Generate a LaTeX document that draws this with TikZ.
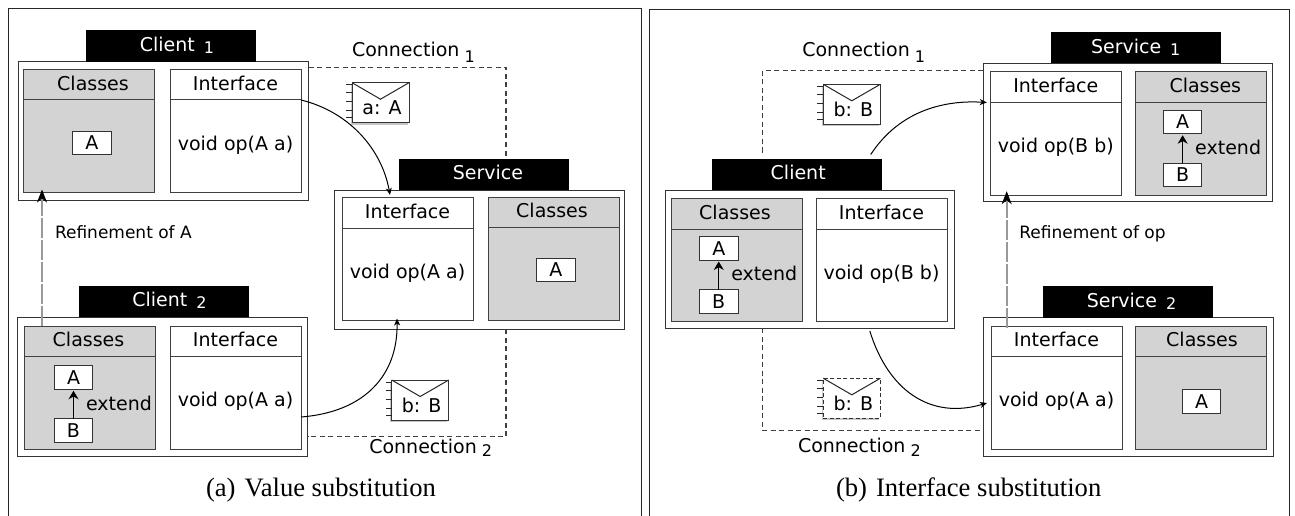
\documentclass[tikz,border=0pt]{standalone}
\usepackage{fontspec}
\setmainfont{DejaVu Sans}
\newfontfamily\capfont{Liberation Serif}
\usepackage{xcolor}
\definecolor{classgray}{RGB}{211,211,211}
\usepackage{tikz}
\usetikzlibrary{arrows.meta}
\usetikzlibrary{calc,shadows}

\tikzset{
	plain/.style={inner sep=0pt,outer sep=0pt},
	framepanel/.style={draw=black!85,line width=1pt},
	outerbox/.style={draw=black!80,fill=white,line width=1pt,anchor=north west,outer sep=0pt,inner sep=0pt},
	titlebar/.style={fill=black,text=white,anchor=north west,minimum width=170pt,minimum height=31.5pt,
		outer sep=0pt,inner sep=0pt,text height=14pt,text depth=2.6pt},
	headbox/.style={draw=black!75,line width=1pt,anchor=north west,minimum width=131pt,minimum height=30.5pt,
		outer sep=0pt,inner sep=0pt,text height=14pt,text depth=2.6pt},
	bodybox/.style={draw=black!75,line width=1pt,anchor=north west,minimum width=131pt,minimum height=92.5pt,
		outer sep=0pt,inner sep=0pt,text height=14pt,text depth=6pt},
	classfill/.style={fill=classgray},
	ifacefill/.style={fill=white},
	classbox/.style={draw=black!80,fill=white,line width=1pt,minimum width=38.5pt,minimum height=23.5pt,
		outer sep=0pt,inner sep=0pt},
	mailbox/.style={draw=black!80,fill=white,line width=1pt,anchor=north west,minimum width=57pt,minimum height=40pt,
		outer sep=0pt,inner sep=0pt,drop shadow={shadow xshift=-1.5pt,shadow yshift=-2pt,fill=black!22,opacity=1}},
	mailline/.style={draw=black!85,line width=1pt},
	connline/.style={draw=black!75,line width=1.1pt,dash pattern=on 5pt off 3.5pt},
	refineline/.style={draw=black!40,line width=1.6pt,dash pattern=on 20pt off 2pt,
		-{Stealth[black,length=13pt,width=10pt,inset=4pt]}},
	callline/.style={draw=black,line width=1pt,-{Stealth[black,length=7pt,width=6pt,inset=2pt]}},
	every node/.style={font=\fontsize{19}{22}\selectfont},
}

\newcommand{\subidx}[3][5]{\hspace{#1pt}\raisebox{-#2pt}{\fontsize{16}{16}\selectfont #3}}
\newcommand{\compart}[6]{
	\node[headbox,#4] (#1h) at (#2,#3) {#5};
	\node[bodybox,#4] (#1b) at (#1h.south west) {#6};
}
\newcommand{\extendpair}[3]{
	\node[classbox] (#1a) at (#2,#3) {A};
	\node[classbox] (#1c) at (#2,#3+53) {B};
	\node[plain] (#1e) at (#2+45.5,#3+25.5) {extend};
	\draw[line width=1pt,shorten >=1.5pt,-{Stealth[length=8.5pt,width=10pt]}] (#1c) -- (#1a);
}
\newcommand{\mailicon}[5]{
	\node[mailbox,#5] (#1) at (#2,#3) {};
	\node[plain,anchor=base] (#1t) at ([xshift=1.5pt,yshift=-12.3pt]#1.center) {#4};
	\draw[mailline] (#1.north west) -- ([yshift=-16.5pt]#1.north) -- (#1.north east);
	\foreach \k in {2,10,19,28,35}
		\draw[mailline] ([yshift=-\k pt]#1.north west) -- ++(-6,0);
}

\begin{document}
\begin{tikzpicture}[x=1pt,y=-1pt]
	\useasboundingbox (0,0) rectangle (1295,516);

	\draw[framepanel] (8.3,516) -- (8.3,8.3) -- (641.7,8.3) -- (641.7,516);
	\draw[framepanel] (649,516) -- (649,9.5) -- (1289.3,9.5) -- (1289.3,516);

	\coordinate (cornerA) at (506,67.5);
	\coordinate (cornerB) at (506,436.7);
	\coordinate (cornerC) at (762.7,70.3);
	\coordinate (cornerD) at (762.7,430.7);

	\node[outerbox,minimum width=290pt,minimum height=138.5pt] (clientA) at (18.5,62) {};
	\node[outerbox,minimum width=290.5pt,minimum height=139pt] (clientB) at (17,317) {};
	\node[outerbox,minimum width=290pt,minimum height=139pt] (server) at (334.5,190) {};
	\node[outerbox,minimum width=289.5pt,minimum height=138pt] (clientR) at (665.3,190) {};
	\node[outerbox,minimum width=289.3pt,minimum height=138.4pt] (serviceA) at (983,63.3) {};
	\node[outerbox,minimum width=289.7pt,minimum height=138.3pt] (serviceB) at (983.3,317.7) {};

	\node[titlebar] (clientAt) at (86,30.5) {\hspace{12pt}Client\subidx[9]{2}{1}};
	\node[titlebar] (clientBt) at (78.5,285.5) {\hspace{12pt}Client\subidx[9]{2}{2}};
	\node[titlebar] (servert) at (399,158.5) {\hspace{8pt}Service};
	\node[titlebar] (clientRt) at (711.7,158.5) {\hspace{3pt}Client};
	\node[titlebar] (serviceAt) at (1050.7,31.8) {Service\subidx[9]{2}{1}\hspace{5pt}};
	\node[titlebar] (serviceBt) at (1043,286.2) {\hspace{7pt}Service\subidx[9]{2}{2}};

	\draw[connline] (cornerA -| clientA.east) -- (cornerA) -- (servert.north -| cornerA);
	\draw[connline] (server.south -| cornerB) -- (cornerB) -- (cornerB -| clientB.east);
	\draw[connline] (cornerC -| serviceA.west) -- (cornerC) -- ([yshift=4pt]clientRt.north -| cornerC);
	\draw[connline] (clientR.south -| cornerD) -- (cornerD) -- (cornerD -| serviceB.west);

	\compart{cAcls}{23.5}{69.5}{classfill}{\hspace{8pt}Classes}{}
	\compart{cAif}{170}{69.5}{ifacefill}{Interface}{void op(A a)}
	\compart{cBcls}{24.5}{326}{classfill}{\hspace{-3pt}Classes}{}
	\compart{cBif}{170}{326}{ifacefill}{Interface}{void op(A a)}
	\compart{sif}{342}{197.5}{ifacefill}{Interface}{void op(A a)}
	\compart{scls}{488}{197}{classfill}{\hspace{-3pt}Classes}{}
	\compart{cRcls}{671}{198.5}{classfill}{\hspace{-3pt}Classes}{}
	\compart{cRif}{816}{198.5}{ifacefill}{Interface}{void op(B b)}
	\compart{sAif}{990.3}{72}{ifacefill}{Interface}{void op(B b)}
	\compart{sAcls}{1135.3}{72}{classfill}{\hspace{9pt}Classes}{}
	\compart{sBif}{991}{326}{ifacefill}{Interface}{void op(A a)}
	\compart{sBcls}{1135.5}{326}{classfill}{\hspace{2pt}Classes}{}

	\node[classbox] (cAa) at (91.75,143) {A};
	\node[classbox] (sa) at (555.75,269.75) {A};
	\node[classbox] (sBa) at (1201.65,401.35) {A};
	\extendpair{cB}{73.5}{377.5}
	\extendpair{cR}{718.75}{248.25}
	\extendpair{sA}{1182.65}{122}

	\mailicon{mailA}{352}{82.7}{a: A}{}
	\mailicon{mailB}{391.7}{380}{b: B}{}
	\mailicon{mailC}{823.3}{84.3}{b: B}{}
	\mailicon{mailD}{823.3}{378.3}{b: B}{dash pattern=on 4pt off 2.5pt}

	\node[plain,anchor=base west] (connA) at (352,56.7) {Connection\subidx{6}{1}};
	\node[plain,anchor=base west] (connB) at (369.3,453.3) {Connection\subidx{3.5}{2}};
	\node[plain,anchor=base west] (connC) at (802.3,56.7) {Connection\subidx{6}{1}};
	\node[plain,anchor=base west] (connD) at (798,452) {Connection\subidx{4.5}{2}};

	\begin{scope}[every node/.style={font=\fontsize{17}{20}\selectfont}]
		\node[plain,anchor=base west] (refA) at (55,238.3) {Refinement of A};
		\node[plain,anchor=base west] (refB) at (1019.3,238.3) {Refinement of op};
	\end{scope}

	\begin{scope}[every node/.style={font=\capfont\fontsize{26.6}{30}\selectfont}]
		\node[plain,anchor=base west] (capA) at (206,496.5) {(a)\hspace{9pt}Value substitution};
		\node[plain,anchor=base west] (capB) at (836,496.5) {(b)\hspace{9pt}Interface substitution};
	\end{scope}

	\draw[refineline] ([xshift=17.5pt]cBclsh.north west) -- ([xshift=18.5pt,yshift=3pt]cAclsb.south west);
	\draw[refineline] ([xshift=15.7pt,yshift=-1.7pt]sBifh.north west) -- ([xshift=16.4pt,yshift=3.8pt]sAifb.south west);

	\draw[callline] (cAifh.south east) .. controls (350,112) and (382,150) .. ([xshift=48pt,yshift=2.5pt]sifh.north west);
	\draw[callline] ([yshift=32pt]cBifb.south east) .. controls (365,412) and (398,375) .. ([xshift=55pt,yshift=2pt]sifb.south west);
	\draw[callline] ([xshift=-11pt,yshift=4pt]clientRt.north east) .. controls (900,110) and (945,100) .. ([xshift=-3.5pt]sAifb.north west);
	\draw[callline] ([xshift=-85pt,yshift=-3pt]clientR.south east) .. controls (888,390) and (930,420) .. ([xshift=-4pt,yshift=46pt]sBifb.south west);
\end{tikzpicture}
\end{document}
